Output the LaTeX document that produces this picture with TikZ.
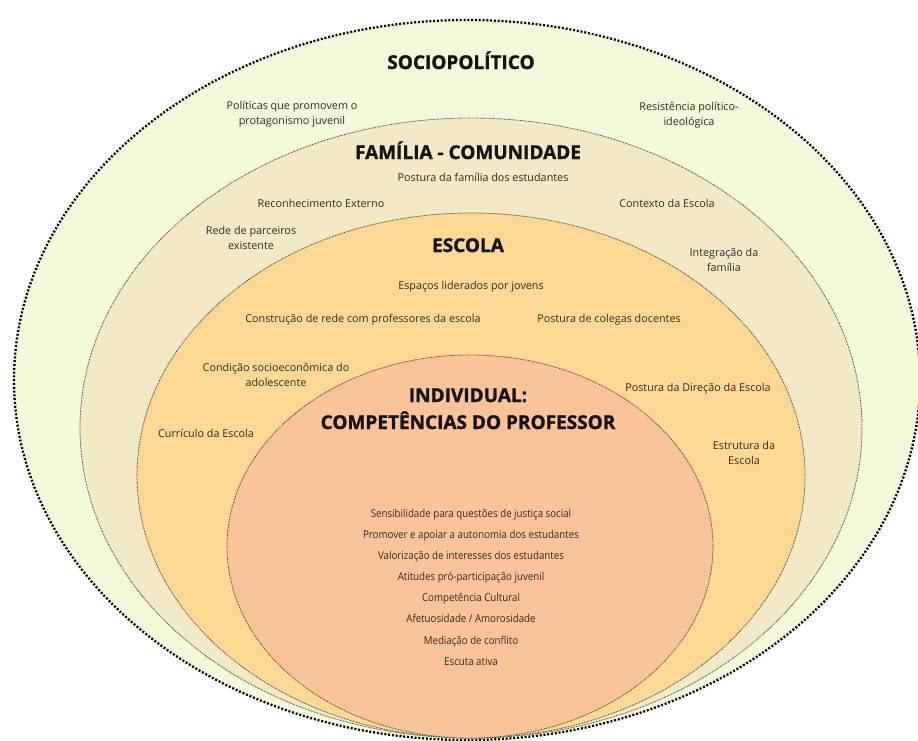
\documentclass[tikz,border=0pt]{standalone}
\usepackage{fontspec}
\setmainfont{Open Sans}
\newfontfamily\condfont[FakeStretch=0.9]{Open Sans}
\newfontfamily\ttlfont[BoldFeatures={FakeBold=1.4}]{Open Sans}
\definecolor{socio}{HTML}{F3FADA}
\definecolor{fam}{HTML}{F2EAC6}
\definecolor{esc}{HTML}{FDD994}
\definecolor{ind}{HTML}{FBC398}
\definecolor{labelc}{HTML}{2F2A26}
\definecolor{ringc}{HTML}{3E4640}
\tikzset{
  ring/.style={draw=ringc, line width=0.8pt, dash pattern=on 0.8pt off 0.8pt},
  outerring/.style={draw=black, line width=2.3pt, line cap=butt, dash pattern=on 2pt off 1.8pt},
  ttl/.style={font=\ttlfont\bfseries\fontsize{19}{22}\selectfont, text=black!92, inner sep=0pt, anchor=base},
  lbl/.style={font=\fontsize{10.8}{15}\selectfont, text=labelc, inner sep=0pt, align=center},
  lbl1/.style={lbl, anchor=base},
  item/.style={font=\condfont\fontsize{10.8}{14}\selectfont, text=labelc, inner sep=0pt, anchor=base}
}
\begin{document}
\begin{tikzpicture}[x=1pt,y=-1pt]
\useasboundingbox (0,0) rectangle (918,740);
\clip (0,0) rectangle (918,740);
\fill[white] (0,0) rectangle (918,740);
% rings
\fill[socio] (467,380) ellipse [x radius=453pt, y radius=360pt];
\draw[outerring] (467,380) ellipse [x radius=453pt, y radius=360pt];
\fill[fam] (471,428) ellipse [x radius=391pt, y radius=310pt];
\draw[ring] (471,428) ellipse [x radius=391pt, y radius=310pt];
\fill[esc] (471,475.5) ellipse [x radius=334pt, y radius=262.5pt];
\draw[ring] (471,475.5) ellipse [x radius=334pt, y radius=262.5pt];
\fill[ind] (470,546.5) ellipse [x radius=243pt, y radius=191.5pt];
\draw[ring] (470,546.5) ellipse [x radius=243pt, y radius=191.5pt];
% titles
\node[ttl] (tsocio) at (461,69) {SOCIOPOLÍTICO};
\node[ttl] (tfam) at (468,159) {FAMÍLIA - COMUNIDADE};
\node[ttl] (tesc) at (468,252) {ESCOLA};
\node[ttl] (tind1) at (468,402) {INDIVIDUAL:};
\node[ttl] (tind2) at (468,429) {COMPETÊNCIAS DO PROFESSOR};
% sociopolitico labels
\node[lbl] (pol) at (292,114.5) {Políticas que promovem o\\protagonismo juvenil};
\node[lbl] (res) at (689,115.5) {Resistência político-\\ideológica};
% familia labels
\node[lbl1] (pfam) at (483,181) {Postura da família dos estudantes};
\node[lbl1] (rext) at (321,207) {Reconhecimento Externo};
\node[lbl1] (ctx) at (667,207) {Contexto da Escola};
\node[lbl] (rede) at (251,237.5) {Rede de parceiros\\existente};
\node[lbl] (integ) at (724,259.5) {Integração da\\família};
% escola labels
\node[lbl1] (esp) at (471,289) {Espaços liderados por jovens};
\node[lbl1] (constr) at (363,322) {Construção de rede com professores da escola};
\node[lbl1] (pcol) at (609,322) {Postura de colegas docentes};
\node[lbl] (cond) at (276,374.5) {Condição socioeconômica do\\adolescente};
\node[lbl1] (pdir) at (698,391) {Postura da Direção da Escola};
\node[lbl1] (curr) at (206,437) {Currículo da Escola};
\node[lbl] (estr) at (744,453) {Estrutura da\\Escola};
% individual items
\node[item] (i1) at (471,517) {Sensibilidade para questões de justiça social};
\node[item] (i2) at (471,538) {Promover e apoiar a autonomia dos estudantes};
\node[item] (i3) at (471,559) {Valorização de interesses dos estudantes};
\node[item] (i4) at (471,580) {Atitudes pró-participação juvenil};
\node[item] (i5) at (471,601) {Competência Cultural};
\node[item] (i6) at (471,622) {Afetuosidade / Amorosidade};
\node[item] (i7) at (471,644) {Mediação de conflito};
\node[item] (i8) at (471,665) {Escuta ativa};
\end{tikzpicture}
\end{document}
